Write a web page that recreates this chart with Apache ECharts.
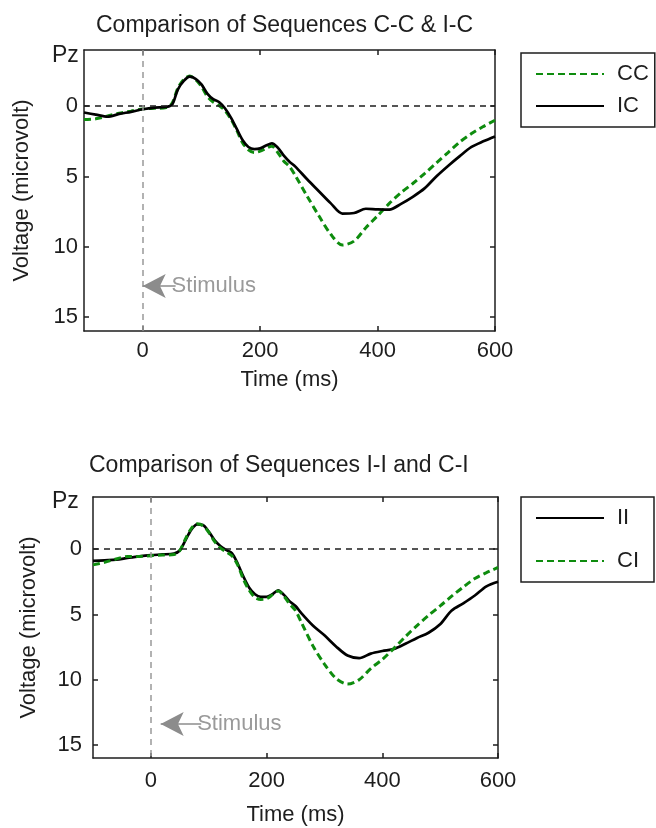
<!DOCTYPE html>
<html>
<head>
<meta charset="utf-8">
<script src="https://cdn.jsdelivr.net/npm/echarts@6/dist/echarts.min.js"></script>
<style>
  html, body { margin: 0; padding: 0; background: #fff; }
  #chart { width: 656px; height: 828px; }
</style>
</head>
<body>
<div id="chart"></div>
<script>
// time points (ms), shared by all four curves
const times = [-100, -80, -60, -40, -20, 0, 20, 40, 50, 60, 70, 80, 90, 100, 110, 120, 130, 140, 150, 160,
  170, 180, 190, 200, 210, 220, 230, 240, 250, 260, 280, 300, 320, 340, 360, 380, 400, 420, 440, 460,
  480, 500, 520, 540, 560, 580, 600]

// top panel: C-C & I-C
const ccVals = [0.95, 0.9, 0.7, 0.5, 0.35, 0.2, 0.15, 0.1, -0.2, -1.3, -1.9, -2.15, -1.9, -1.4, -0.7, -0.3, -0.05, 0.3, 0.9, 1.7,
  2.6, 3.1, 3.3, 3.2, 3.0, 2.85, 3.3, 3.9, 4.3, 4.95, 6.4, 7.8, 9.1, 9.88, 9.6, 8.65, 7.8, 6.92, 6.15, 5.5,
  4.8, 4.05, 3.3, 2.55, 1.95, 1.45, 1.0]
const icVals = [0.45, 0.6, 0.75, 0.55, 0.4, 0.22, 0.1, 0.05, -0.1, -1.2, -1.8, -2.1, -1.95, -1.55, -0.9, -0.5, -0.3, 0.15, 0.8, 1.6,
  2.4, 2.9, 3.05, 3.0, 2.8, 2.65, 2.95, 3.5, 3.95, 4.3, 5.2, 6.05, 6.9, 7.64, 7.6, 7.3, 7.35, 7.36, 6.95, 6.45,
  5.85, 5.0, 4.25, 3.55, 2.9, 2.5, 2.15]

// bottom panel: I-I and C-I
const iiVals = [0.9, 0.85, 0.8, 0.67, 0.55, 0.46, 0.4, 0.33, 0.1, -0.7, -1.5, -1.9, -1.85, -1.35, -0.7, -0.25, 0.05, 0.3, 1.1, 2.1,
  2.95, 3.45, 3.65, 3.65, 3.45, 3.15, 3.5, 4.0, 4.35, 4.9, 5.85, 6.6, 7.45, 8.15, 8.35, 8.0, 7.8, 7.65, 7.25, 6.8,
  6.4, 5.75, 4.7, 4.15, 3.55, 2.85, 2.5]
const ciVals = [1.2, 1.0, 0.75, 0.55, 0.55, 0.5, 0.45, 0.4, 0.1, -0.8, -1.6, -1.95, -1.8, -1.3, -0.6, -0.1, 0.2, 0.5, 1.2, 2.3,
  3.15, 3.7, 3.85, 3.8, 3.5, 3.2, 3.6, 4.2, 4.7, 5.6, 7.4, 8.8, 9.9, 10.33, 10.0, 9.15, 8.45, 7.6, 6.7, 5.85,
  5.07, 4.35, 3.6, 2.9, 2.25, 1.8, 1.4]

const xTicks = [0, 200, 400, 600]
const yTicks = [0, 5, 10, 15]

// stimulus arrows: [tail, tip] in data coords
const stimTop = [[56, 12.8], [0, 12.8]]
const stimBot = [[87, 13.4], [17, 13.4]]

const FONT = 'Liberation Sans, Arial, sans-serif'
const INK = '#1e1e1e'
const GREEN = '#0e8c0e'

const pairs = vals => times.map((t, i) => [t, vals[i]])

function xAxes (grid, pos, gap) {
  return {
    gridIndex: grid,
    type: 'value',
    position: pos,
    min: -100,
    max: 600,
    name: pos === 'bottom' ? 'Time (ms)' : '',
    nameLocation: 'middle',
    nameGap: gap,
    nameTextStyle: { color: INK, fontSize: 22, fontFamily: FONT },
    axisLine: { show: true, onZero: false, lineStyle: { color: INK, width: 1.5 } },
    axisTick: { show: true, inside: true, length: 5, customValues: xTicks, lineStyle: { color: INK, width: 1.5 } },
    axisLabel: { show: pos === 'bottom', customValues: xTicks, margin: grid === 0 ? 9 : 12, color: INK, fontSize: 22, fontFamily: FONT },
    splitLine: { show: false }
  }
}

function yAxes (grid, pos, gap, margin) {
  return {
    gridIndex: grid,
    type: 'value',
    position: pos,
    inverse: true,
    min: -4,
    max: 16,
    name: pos === 'left' ? 'Voltage (microvolt)' : '',
    nameLocation: 'middle',
    nameRotate: 90,
    nameGap: gap,
    nameTextStyle: { color: INK, fontSize: 22, fontFamily: FONT },
    axisLine: { show: true, onZero: false, lineStyle: { color: INK, width: 1.5 } },
    axisTick: { show: true, inside: true, length: 5, customValues: yTicks, lineStyle: { color: INK, width: 1.5 } },
    axisLabel: { show: pos === 'left', customValues: yTicks, margin: margin, color: INK, fontSize: 22, fontFamily: FONT },
    splitLine: { show: false }
  }
}

function guides (stim) {
  return {
    silent: true,
    symbol: 'none',
    animation: false,
    label: { show: false },
    data: [
      { yAxis: 0, lineStyle: { color: INK, type: [6, 5], width: 1.5 } },
      { xAxis: 0, lineStyle: { color: '#999', type: [6, 5], width: 1.5 } },
      [
        {
          coord: stim[0],
          symbol: 'none',
          lineStyle: { color: '#8c8c8c', type: 'solid', width: 1.5 },
          label: { show: true, position: 'start', formatter: 'Stimulus', color: '#9a9a9a', fontSize: 22, fontFamily: FONT, distance: -4 }
        },
        { coord: stim[1], symbol: 'arrow', symbolSize: [18, 23] }
      ]
    ]
  }
}

function curve (name, vals, xi, yi, dashed, extra) {
  return Object.assign({
    name: name,
    type: 'line',
    xAxisIndex: xi,
    yAxisIndex: yi,
    data: pairs(vals),
    symbol: 'none',
    smooth: 0.3,
    animation: false,
    itemStyle: { color: 'transparent', borderWidth: 0 },
    lineStyle: dashed
      ? { color: GREEN, width: 3, type: [7, 4] }
      : { color: '#000', width: 2.7 }
  }, extra || {})
}

function legendBox (names, top, gap, padRight) {
  return {
    data: names,
    orient: 'vertical',
    left: 521,
    top: top,
    padding: [10, padRight, 10, 14],
    itemGap: gap,
    itemWidth: 68,
    itemHeight: 14,
    itemTextGap: 5,
    itemStyle: { color: 'transparent', borderWidth: 0 },
    borderColor: INK,
    borderWidth: 1.5,
    backgroundColor: '#fff',
    textStyle: { color: INK, fontSize: 22, fontFamily: FONT, padding: [0, 0, 0, 8] }
  }
}

const chart = echarts.init(document.getElementById('chart'))
chart.setOption({
  backgroundColor: '#fff',
  textStyle: { fontFamily: FONT },
  graphic: [
    { type: 'text', left: 96, top: 14, style: { text: 'Comparison of Sequences C-C & I-C', fill: INK, font: '23px ' + FONT } },
    { type: 'text', left: 89, top: 454, style: { text: 'Comparison of Sequences I-I and C-I', fill: INK, font: '23px ' + FONT } },
    { type: 'text', left: 52, top: 44, style: { text: 'Pz', fill: INK, font: '23px ' + FONT } },
    { type: 'text', left: 52, top: 490, style: { text: 'Pz', fill: INK, font: '23px ' + FONT } }
  ],
  legend: [
    legendBox(['CC', 'IC'], 53, 10, 6),
    legendBox(['II', 'CI'], 497, 21, 15)
  ],
  grid: [
    { left: 84, top: 50, width: 411, height: 281 },
    { left: 93, top: 497, width: 405, height: 261 }
  ],
  xAxis: [
    xAxes(0, 'bottom', 38),
    xAxes(0, 'top', 0),
    xAxes(1, 'bottom', 46),
    xAxes(1, 'top', 0)
  ],
  yAxis: [
    yAxes(0, 'left', 51, 6),
    yAxes(0, 'right', 0, 6),
    yAxes(1, 'left', 53, 11),
    yAxes(1, 'right', 0, 11)
  ],
  series: [
    curve('CC', ccVals, 0, 0, true, { markLine: guides(stimTop) }),
    curve('IC', icVals, 0, 0, false),
    curve('II', iiVals, 2, 2, false, { markLine: guides(stimBot) }),
    curve('CI', ciVals, 2, 2, true)
  ]
})
</script>
</body>
</html>
